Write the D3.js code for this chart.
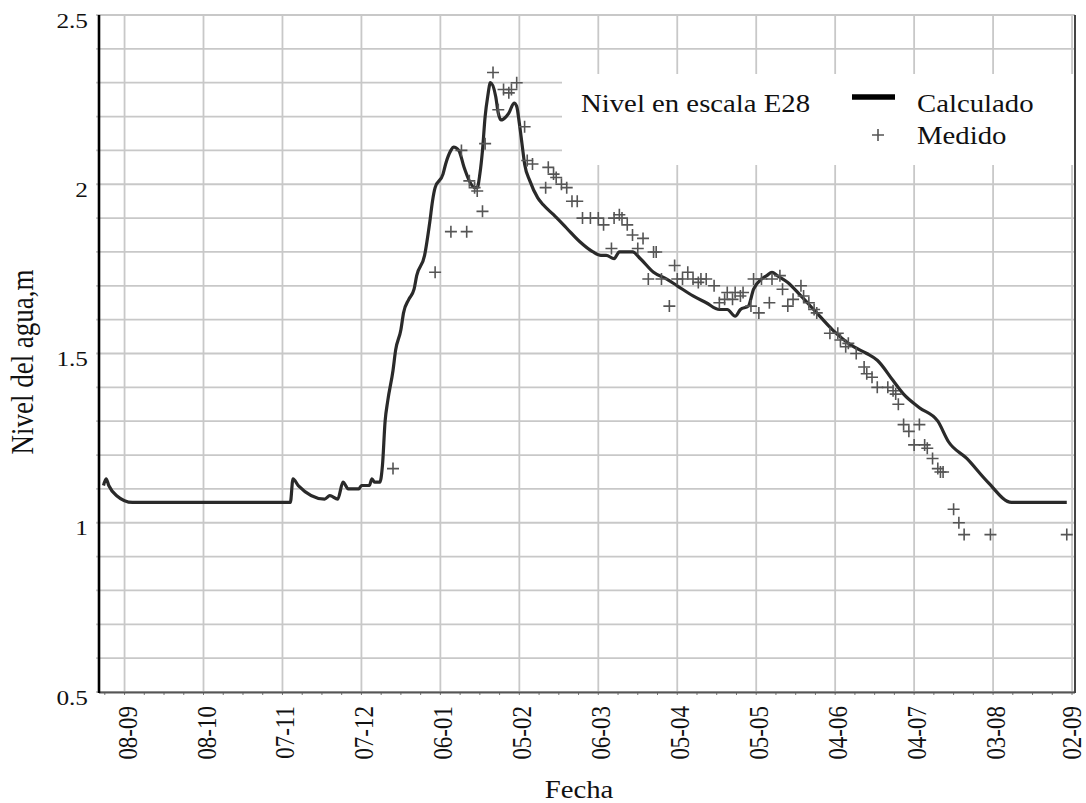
<!DOCTYPE html>
<html>
<head>
<meta charset="utf-8">
<script src="https://cdn.jsdelivr.net/npm/d3@7"></script>
<style>
  html, body { margin: 0; padding: 0; background: #fff; }
  svg { display: block; }
  text { font-family: "Liberation Serif", "Times New Roman", serif; fill: #111; }
</style>
</head>
<body>
<svg id="chart" width="1086" height="803"></svg>
<script>
// Nivel calculado (modelo) en la escala E28, m
const calculado = [
  ["2007-08-31",1.11],["2007-09-01",1.13],["2007-09-02",1.11],["2007-09-05",1.08],
  ["2007-09-11",1.06],["2007-11-10",1.06],["2007-11-11",1.13],["2007-11-13",1.11],
  ["2007-11-23",1.07],["2007-11-25",1.08],["2007-11-28",1.07],["2007-11-30",1.12],
  ["2007-12-02",1.10],["2007-12-06",1.10],["2007-12-07",1.11],["2007-12-10",1.11],
  ["2007-12-11",1.13],["2007-12-12",1.12],["2007-12-14",1.12],["2007-12-15",1.17],
  ["2007-12-16",1.30],["2007-12-17",1.36],["2007-12-19",1.45],["2007-12-20",1.51],
  ["2007-12-22",1.57],["2007-12-23",1.62],["2007-12-25",1.66],["2007-12-27",1.69],
  ["2007-12-28",1.73],["2007-12-31",1.79],["2008-01-02",1.89],["2008-01-03",1.95],
  ["2008-01-04",1.99],["2008-01-07",2.03],["2008-01-08",2.06],["2008-01-10",2.10],
  ["2008-01-11",2.11],["2008-01-13",2.10],["2008-01-15",2.05],["2008-01-17",2.01],
  ["2008-01-19",1.99],["2008-01-20",1.99],["2008-01-21",2.03],["2008-01-22",2.10],
  ["2008-01-23",2.20],["2008-01-24",2.26],["2008-01-25",2.30],["2008-01-27",2.26],
  ["2008-01-28",2.21],["2008-01-29",2.19],["2008-01-31",2.20],["2008-02-01",2.21],
  ["2008-02-03",2.24],["2008-02-04",2.23],["2008-02-05",2.18],["2008-02-06",2.12],
  ["2008-02-07",2.06],["2008-02-09",2.01],["2008-02-12",1.96],["2008-02-14",1.94],
  ["2008-02-18",1.91],["2008-02-23",1.87],["2008-02-28",1.83],["2008-03-04",1.80],
  ["2008-03-07",1.79],["2008-03-09",1.79],["2008-03-12",1.78],["2008-03-14",1.80],
  ["2008-03-19",1.80],["2008-03-22",1.78],["2008-03-27",1.74],["2008-04-01",1.72],
  ["2008-04-05",1.70],["2008-04-11",1.67],["2008-04-16",1.65],["2008-04-21",1.63],
  ["2008-04-24",1.63],["2008-04-27",1.61],["2008-04-29",1.63],["2008-05-02",1.64],
  ["2008-05-04",1.69],["2008-05-07",1.72],["2008-05-09",1.73],["2008-05-11",1.74],
  ["2008-05-13",1.73],["2008-05-17",1.71],["2008-05-22",1.67],["2008-05-28",1.62],
  ["2008-06-03",1.57],["2008-06-11",1.52],["2008-06-16",1.50],["2008-06-20",1.48],
  ["2008-06-26",1.42],["2008-06-30",1.38],["2008-07-06",1.34],["2008-07-13",1.30],
  ["2008-07-17",1.24],["2008-07-24",1.19],["2008-08-01",1.12],["2008-08-10",1.06],
  ["2008-08-31",1.06]
];

// Nivel medido en la escala E28, m
const medido = [
  ["2007-12-19",1.16],["2008-01-04",1.74],["2008-01-10",1.86],["2008-01-14",2.10],
  ["2008-01-16",1.86],["2008-01-17",2.01],["2008-01-19",1.99],["2008-01-20",1.98],
  ["2008-01-22",1.92],["2008-01-23",2.12],["2008-01-26",2.33],["2008-01-28",2.22],
  ["2008-01-30",2.28],["2008-02-01",2.27],["2008-02-02",2.28],["2008-02-04",2.30],
  ["2008-02-07",2.17],["2008-02-08",2.07],["2008-02-10",2.06],["2008-02-15",1.99],
  ["2008-02-16",2.05],["2008-02-18",2.03],["2008-02-19",2.02],["2008-02-21",2.00],
  ["2008-02-23",1.99],["2008-02-25",1.95],["2008-02-27",1.95],["2008-02-29",1.90],
  ["2008-03-03",1.90],["2008-03-06",1.90],["2008-03-08",1.88],["2008-03-11",1.81],
  ["2008-03-12",1.90],["2008-03-14",1.91],["2008-03-15",1.90],["2008-03-17",1.88],
  ["2008-03-19",1.85],["2008-03-21",1.81],["2008-03-23",1.84],["2008-03-25",1.72],
  ["2008-03-27",1.80],["2008-03-28",1.80],["2008-03-30",1.72],["2008-04-02",1.64],
  ["2008-04-04",1.76],["2008-04-05",1.72],["2008-04-07",1.72],["2008-04-09",1.74],
  ["2008-04-11",1.72],["2008-04-13",1.71],["2008-04-14",1.72],["2008-04-16",1.72],
  ["2008-04-19",1.70],["2008-04-21",1.65],["2008-04-23",1.66],["2008-04-24",1.68],
  ["2008-04-26",1.66],["2008-04-27",1.68],["2008-04-29",1.67],["2008-04-30",1.68],
  ["2008-05-03",1.64],["2008-05-04",1.72],["2008-05-06",1.62],["2008-05-07",1.72],
  ["2008-05-10",1.65],["2008-05-11",1.72],["2008-05-14",1.73],["2008-05-15",1.69],
  ["2008-05-17",1.64],["2008-05-19",1.66],["2008-05-22",1.70],["2008-05-23",1.67],
  ["2008-05-25",1.65],["2008-05-27",1.63],["2008-05-28",1.62],["2008-06-02",1.56],
  ["2008-06-05",1.56],["2008-06-06",1.54],["2008-06-08",1.52],["2008-06-09",1.53],
  ["2008-06-12",1.50],["2008-06-15",1.46],["2008-06-16",1.44],["2008-06-18",1.43],
  ["2008-06-20",1.40],["2008-06-24",1.40],["2008-06-26",1.39],["2008-06-27",1.38],
  ["2008-06-28",1.35],["2008-06-30",1.29],["2008-07-02",1.27],["2008-07-04",1.23],
  ["2008-07-06",1.29],["2008-07-08",1.23],["2008-07-09",1.22],["2008-07-11",1.19],
  ["2008-07-13",1.16],["2008-07-14",1.15],["2008-07-15",1.15],["2008-07-19",1.04],
  ["2008-07-21",1.00],["2008-07-23",0.965],["2008-08-02",0.965],["2008-08-31",0.965]
];

// Fechas de las marcas del eje X (cada 30 días) y valores del eje Y
const tickDates = ["2007-09-08","2007-10-08","2007-11-07","2007-12-07","2008-01-06",
  "2008-02-05","2008-03-06","2008-04-05","2008-05-05","2008-06-04","2008-07-04",
  "2008-08-03","2008-09-02"];
const yTicks = [0.5, 1, 1.5, 2, 2.5];
const yGrid = [0.5,0.6,0.7,0.8,0.9,1.0,1.1,1.2,1.3,1.4,1.5,1.6,1.7,1.8,1.9,2.0,2.1,2.2,2.3,2.4,2.5];

const legendTitle = "Nivel en escala E28";
const seriesNames = ["Calculado", "Medido"];
const xTitle = "Fecha";
const yTitle = "Nivel del agua,m";

// ---- layout ----
const SX = 1.15;                 // horizontal stretch of the serif lettering
const plot = { left: 99, right: 1075, top: 15, bottom: 692 };
const parse = d3.timeParse("%Y-%m-%d");
const fmt = d3.timeFormat("%d-%m");

const svg = d3.select("#chart");

const x = d3.scaleTime()
  .domain([new Date(2007, 7, 29, 7), new Date(2008, 8, 3, 3)])
  .range([plot.left, plot.right]);
const y = d3.scaleLinear().domain([0.5, 2.5]).range([plot.bottom, plot.top]);

const ticks = tickDates.map(parse);

// grid
const grid = svg.append("g").attr("stroke", "#c8c8c8").attr("stroke-width", 1.8);
grid.selectAll("line.h").data(yGrid).join("line")
  .attr("x1", plot.left - 3).attr("x2", plot.right)
  .attr("y1", d => y(d)).attr("y2", d => y(d));
grid.selectAll("line.v").data(ticks).join("line")
  .attr("x1", d => x(d)).attr("x2", d => x(d))
  .attr("y1", plot.top).attr("y2", plot.bottom);

// minor ticks on the bottom axis (quarter of a 30-day step)
const minor = [];
for (let i = -2; i < 52; i++) {
  const d = d3.timeHour.offset(ticks[0], i * 180);
  if (x(d) > plot.left + 1 && x(d) < plot.right - 1) minor.push(d);
}
svg.append("g").attr("stroke", "#777").attr("stroke-width", 1)
  .selectAll("line").data(minor).join("line")
  .attr("x1", d => x(d)).attr("x2", d => x(d))
  .attr("y1", plot.bottom).attr("y2", plot.bottom + 3);

// frame
svg.append("line").attr("x1", plot.left).attr("x2", plot.right)
  .attr("y1", plot.bottom + 0.5).attr("y2", plot.bottom + 0.5)
  .attr("stroke", "#555").attr("stroke-width", 2.2);
svg.append("line").attr("x1", plot.right).attr("x2", plot.right)
  .attr("y1", plot.top).attr("y2", plot.bottom + 1)
  .attr("stroke", "#444").attr("stroke-width", 2);
svg.append("line").attr("x1", plot.left).attr("x2", plot.left)
  .attr("y1", plot.top).attr("y2", plot.bottom + 1)
  .attr("stroke", "#000").attr("stroke-width", 2.6);

// legend box
const lg = svg.append("g");
lg.append("rect").attr("x", 562).attr("y", 74).attr("width", plot.right - 1 - 562).attr("height", 91)
  .attr("fill", "#fff");
lg.append("text").attr("transform", `translate(581,112) scale(${SX},1)`)
  .style("font-size", "25px").text(legendTitle);
lg.append("line").attr("x1", 852).attr("x2", 895).attr("y1", 97).attr("y2", 97)
  .attr("stroke", "#000").attr("stroke-width", 5.5);
lg.append("path").attr("d", "M872,135h12M878,129v12").attr("stroke", "#555").attr("stroke-width", 1.6);
lg.append("text").attr("transform", `translate(917,112) scale(${SX},1)`)
  .style("font-size", "25px").text(seriesNames[0]);
lg.append("text").attr("transform", `translate(917,144) scale(${SX},1)`)
  .style("font-size", "25px").text(seriesNames[1]);

// axes
const yAxis = svg.append("g").attr("transform", `translate(${plot.left},0)`)
  .call(d3.axisLeft(y).tickValues(yTicks).tickSize(0).tickFormat(d3.format("")));
yAxis.select(".domain").remove();
yAxis.selectAll("text")
  .attr("x", null).attr("dy", null)
  .attr("transform", `translate(-11,12) scale(${SX},1)`)
  .attr("text-anchor", "end")
  .style("font-size", "22px").style("font-family", null);

const xAxis = svg.append("g").attr("transform", `translate(0,${plot.bottom})`)
  .call(d3.axisBottom(x).tickValues(ticks).tickSize(0).tickFormat(fmt));
xAxis.select(".domain").remove();
// the last label sits against the right edge, nudge it inwards to keep it whole
xAxis.selectAll("text")
  .attr("y", null).attr("dy", null)
  .attr("transform", (d, i, n) =>
    `translate(${i === n.length - 1 ? 8 : 11.5},14) scale(${SX},1) rotate(-90)`)
  .attr("text-anchor", "end")
  .style("font-size", "23px").style("font-family", null);

// titles
svg.append("text").attr("transform", `translate(579,798) scale(${SX},1)`)
  .attr("text-anchor", "middle").style("font-size", "25px").text(xTitle);
svg.append("text").attr("transform", `translate(33,362) scale(${SX},1) rotate(-90)`)
  .attr("text-anchor", "middle").style("font-size", "27px").text(yTitle);

// series
const line = d3.line().curve(d3.curveMonotoneX)
  .x(d => x(parse(d[0]))).y(d => y(d[1]));
svg.append("path").datum(calculado).attr("d", line)
  .attr("fill", "none").attr("stroke", "#2a2a2a").attr("stroke-width", 3.2)
  .attr("stroke-linejoin", "round");

svg.append("g").attr("stroke", "#555").attr("stroke-width", 1.6)
  .selectAll("path").data(medido).join("path")
  .attr("d", d => {
    const px = x(parse(d[0])), py = y(d[1]);
    return `M${px - 6},${py}h12M${px},${py - 6}v12`;
  });
</script>
</body>
</html>
